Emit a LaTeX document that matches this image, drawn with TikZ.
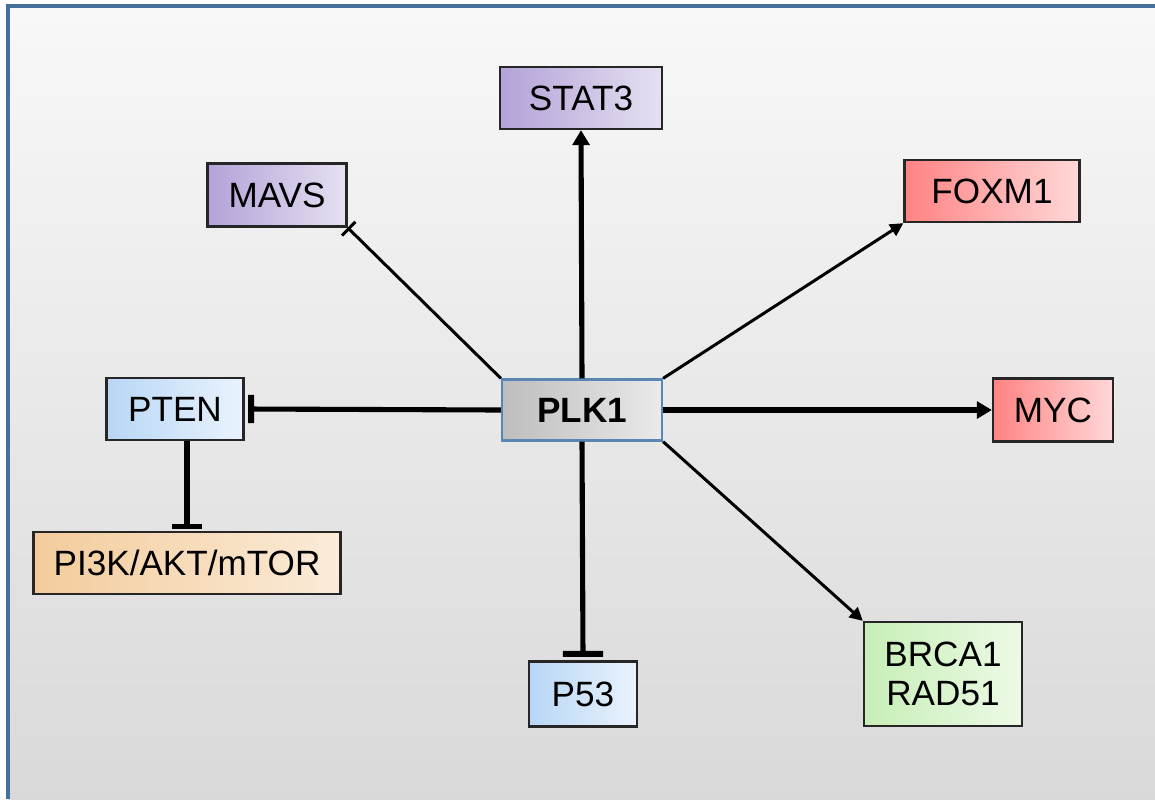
\documentclass[tikz,border=0pt]{standalone}
\usepackage{fontspec}
\setmainfont{Liberation Sans}
\usetikzlibrary{arrows.meta}
\definecolor{bgtop}{HTML}{F8F8F8}
\definecolor{bgbot}{HTML}{D9D9D9}
\definecolor{frameblue}{HTML}{46709B}
\definecolor{purpleA}{HTML}{B3A2D8}
\definecolor{purpleB}{HTML}{E6E0F1}
\definecolor{redA}{HTML}{FF8383}
\definecolor{redB}{HTML}{FFD8D8}
\definecolor{blueA}{HTML}{B8D6F5}
\definecolor{blueB}{HTML}{EAF3FD}
\definecolor{tanA}{HTML}{F3CC9C}
\definecolor{tanB}{HTML}{FBEBD8}
\definecolor{greenA}{HTML}{C6EEB6}
\definecolor{greenB}{HTML}{EDFAE6}
\definecolor{greyA}{HTML}{BDBDBD}
\definecolor{greyB}{HTML}{EAEAEA}
\definecolor{plkblue}{HTML}{5B85B3}

\begin{document}
\begin{tikzpicture}[x=0.02cm,y=-0.02cm,
    box/.style={draw=black!85,line width=1.3pt,inner sep=0pt,align=center,
      font=\fontsize{20}{22}\selectfont},
    purplebox/.style={box,left color=purpleA,right color=purpleB},
    redbox/.style={box,left color=redA,right color=redB},
    bluebox/.style={box,left color=blueA,right color=blueB},
    tanbox/.style={box,left color=tanA,right color=tanB},
    greenbox/.style={box,left color=greenA,right color=greenB},
    fat/.style={line width=2.9pt},
    slim/.style={line width=1.7pt}]
        \useasboundingbox (0,0) rectangle (1155,799);
        \shade[top color=bgtop,bottom color=bgbot] (8,6) rectangle (1155,799);
        \draw[frameblue,line width=2pt] (8,799) -- (8,6) -- (1155,6);
        % boxes
        \node[box,draw=plkblue,left color=greyA,right color=greyB,minimum width=3.2cm,minimum height=1.22cm,font=\fontsize{20}{22}\selectfont\bfseries] (plk) at (582,410) {PLK1};
        \node[purplebox,minimum width=3.24cm,minimum height=1.24cm] (stat3) at (581,98) {STAT3};
        \node[purplebox,minimum width=2.78cm,minimum height=1.26cm] (mavs) at (277,195) {MAVS};
        \node[redbox,minimum width=3.5cm,minimum height=1.24cm] (foxm1) at (992,191) {FOXM1};
        \node[redbox,minimum width=2.4cm,minimum height=1.26cm] (myc) at (1053,410) {MYC};
        \node[bluebox,minimum width=2.74cm,minimum height=1.24cm] (pten) at (175,409) {PTEN};
        \node[tanbox,minimum width=6.14cm,minimum height=1.24cm] (pik) at (187,563) {PI3K/AKT/mTOR};
        \node[bluebox,minimum width=2.16cm,minimum height=1.3cm] (p53) at (583,694) {P53};
        \node[greenbox,minimum width=3.16cm,minimum height=2.08cm] (brca) at (943,674) {BRCA1\\RAD51};
        % activation
        \draw[fat,-{Triangle[width=9.5pt,length=8.5pt]}] (plk.north) -- (stat3.south);
        \draw[fat,-{Triangle[width=9.5pt,length=8.5pt]}] (plk.east) -- (myc.west);
        \draw[slim,-{Triangle[width=7.5pt,length=7.5pt]}] (plk.north east) -- (foxm1.south west);
        \draw[slim,-{Triangle[width=7.5pt,length=7.5pt]}] (plk.south east) -- (brca.north west);
        % inhibition
        \draw[fat,-{Bar[width=16pt,line width=3.4pt]}] (plk.west) -- ([xshift=2pt]pten.east);
        \draw[fat,-{Bar[width=23pt,line width=3.4pt]}] (plk.south) -- ([yshift=2pt]p53.north);
        \draw[fat,-{Bar[width=17pt,line width=3pt]}] (pik.north |- pten.south) -- ([yshift=1pt]pik.north);
        \draw[slim,-{Bar[width=11pt,line width=1.7pt]}] (plk.north west) -- (mavs.south east);
\end{tikzpicture}
\end{document}
